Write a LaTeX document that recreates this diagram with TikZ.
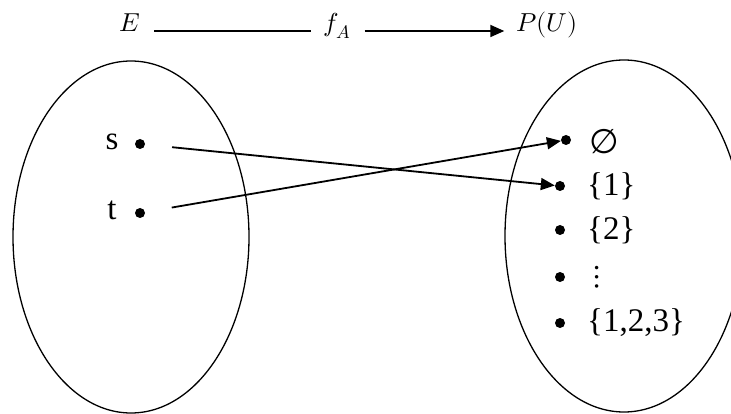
\documentclass[tikz,border=0pt]{standalone}
\usepackage{fontspec}
\usepackage{unicode-math}
\setmainfont{Liberation Serif}
\setmathfont{Latin Modern Math}
\newfontfamily\symfont{DejaVu Sans}
\usetikzlibrary{arrows.meta,shapes.geometric}
\tikzset{
  setell/.style={draw,line width=1.3pt,ellipse,inner sep=0pt},
  pt/.style={circle,fill=black,inner sep=0pt,minimum size=10pt},
  lbl/.style={font=\fontsize{33}{38}\selectfont,inner sep=0pt},
  mlbl/.style={font=\fontsize{26}{30}\selectfont,inner sep=0pt,anchor=base},
  arr/.style={line width=1.8pt,-{Triangle[length=14pt,width=12pt]}},
  plain/.style={line width=1.8pt}
}
\begin{document}
\begin{tikzpicture}[x=1pt,y=-1pt]
\clip (0,0) rectangle (731,414);
% sets
\node[setell,minimum width=236pt,minimum height=352pt] (A) at (131,237) {};
\node[setell,minimum width=238pt,minimum height=352pt] (B) at (624,236) {};
% top row
\node[mlbl] (E) at (130,32) {$E$};
\node[mlbl] (fA) at (337,32) {$f_A$};
\node[mlbl] (PU) at (547,32) {$P(U)$};
\draw[plain] ([xshift=14pt,yshift=1pt]E.base east) -- ([xshift=-12pt,yshift=1pt]fA.base west);
\draw[arr] ([xshift=14pt,yshift=1pt]fA.base east) -- ([xshift=-12pt,yshift=1pt]PU.base west);
% domain
\node[pt] (s) at (140,144) {};
\node[pt] (t) at (140,213) {};
\node[lbl] (sl) at (112,142) {s};
\node[lbl] (tl) at (112,210) {t};
% codomain
\node[pt] (d0) at (566,140) {};
\node[pt] (d1) at (560,186) {};
\node[pt] (d2) at (560,230) {};
\node[pt] (d3) at (560,277) {};
\node[pt] (d4) at (560,323) {};
\node[inner sep=0pt,font=\symfont\fontsize{34}{38}\selectfont] (l0) at (604,142) {∅};
\node[lbl,anchor=west] (l1) at (587,186) {\{1\}};
\node[lbl,anchor=west] (l2) at (587,230) {\{2\}};
\node[lbl] (l3) at (597,277) {$\vdots$};
\node[lbl,anchor=west] (l4) at (587,323) {\{1,2,3\}};
% mapping
\draw[arr,shorten <=27pt] (s) -- (d1);
\draw[arr,shorten <=27pt] (t) -- (d0);
\end{tikzpicture}
\end{document}
